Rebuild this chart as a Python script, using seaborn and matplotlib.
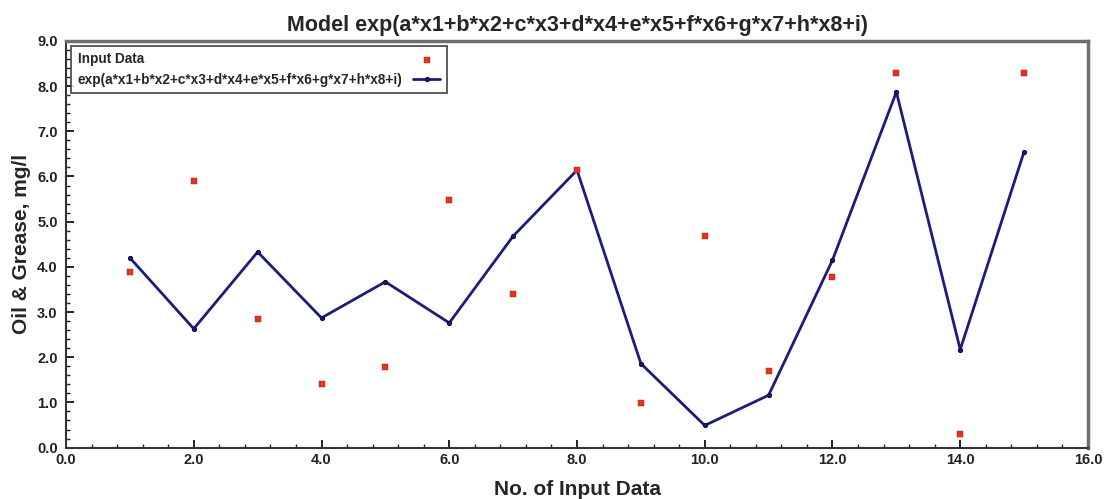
import matplotlib
matplotlib.use("Agg")
import matplotlib.pyplot as plt
from matplotlib.ticker import MultipleLocator, FormatStrFormatter
import pandas as pd
import seaborn as sns

# data
sample_no = [1, 2, 3, 4, 5, 6, 7, 8, 9, 10, 11, 12, 13, 14, 15]
input_data = [3.89, 5.90, 2.84, 1.40, 1.79, 5.48, 3.40, 6.15, 0.99, 4.68, 1.69, 3.78, 8.29, 0.30, 8.29]
model_fit = [4.20, 2.63, 4.33, 2.87, 3.67, 2.76, 4.68, 6.14, 1.86, 0.49, 1.16, 4.15, 7.87, 2.17, 6.55]

model_label = "exp(a*x1+b*x2+c*x3+d*x4+e*x5+f*x6+g*x7+h*x8+i)"
title = "Model exp(a*x1+b*x2+c*x3+d*x4+e*x5+f*x6+g*x7+h*x8+i)"

df = pd.DataFrame({"n": sample_no, "input": input_data, "model": model_fit})

sns.set_style("white")
plt.rcParams["font.family"] = ["Liberation Sans", "DejaVu Sans"]
plt.rcParams["font.weight"] = "bold"

fig = plt.figure(figsize=(11.04, 4.99), dpi=100)
ax = fig.add_axes([0.0598, 0.103, 0.9257, 0.815])

sns.scatterplot(data=df, x="n", y="input", ax=ax, marker="s", s=15,
                color="#e8321e", edgecolor="#9a2012", linewidth=0.3,
                label="Input Data", zorder=3)
sns.lineplot(data=df, x="n", y="model", ax=ax, color="#1c1c7a", linewidth=2.0,
             marker="o", markersize=3.0, markeredgecolor="#0a0a40",
             label=model_label, zorder=2)

ax.set_xlim(0, 16)
ax.set_ylim(0, 9)
ax.xaxis.set_major_locator(MultipleLocator(2))
ax.xaxis.set_minor_locator(MultipleLocator(0.4))
ax.yaxis.set_major_locator(MultipleLocator(1))
ax.yaxis.set_minor_locator(MultipleLocator(0.2))
ax.xaxis.set_major_formatter(FormatStrFormatter("%.1f"))
ax.yaxis.set_major_formatter(FormatStrFormatter("%.1f"))
ax.tick_params(which="major", direction="in", length=6, width=1.4, labelsize=10.5,
               colors="#222222", pad=4)
ax.tick_params(axis="y", which="major", pad=6)
ax.tick_params(which="minor", direction="in", length=3, width=1.0, colors="#222222")
ax.tick_params(axis="x", which="both", bottom=True)
ax.tick_params(axis="y", which="both", left=True)

for side in ["top", "right"]:
    ax.spines[side].set_color("#6e6e6e")
    ax.spines[side].set_linewidth(2.5)
for side in ["left", "bottom"]:
    ax.spines[side].set_color("#333333")
    ax.spines[side].set_linewidth(1.5)

ax.set_xlabel("No. of Input Data", fontsize=15, fontweight="bold")
ax.set_ylabel("Oil & Grease, mg/l", fontsize=15, fontweight="bold")
ax.xaxis.set_label_coords(0.5, -0.08)
ax.yaxis.set_label_coords(-0.034, 0.5)
ax.set_title(title, fontsize=15.5, fontweight="bold", pad=7)

fs = 9.8
leg = ax.legend(loc="upper left", fontsize=fs, markerfirst=False, frameon=True,
                fancybox=False, borderpad=0.5, handlelength=2.0,
                labelspacing=0.45, borderaxespad=0.35)
leg.get_frame().set_edgecolor("#333333")
leg.get_frame().set_linewidth(1.4)

# left-align the labels while keeping the handles in one column on the right
fig.canvas.draw()
renderer = fig.canvas.get_renderer()
widths = [t.get_window_extent(renderer).width for t in leg.get_texts()]
wmax = max(widths)
items = leg._legend_handle_box.get_children()[0].get_children()
for item, w in zip(items, widths):
    item.sep = leg.handletextpad * fs + (wmax - w) * 72.0 / fig.dpi

fig.savefig("out.png", dpi=100)
